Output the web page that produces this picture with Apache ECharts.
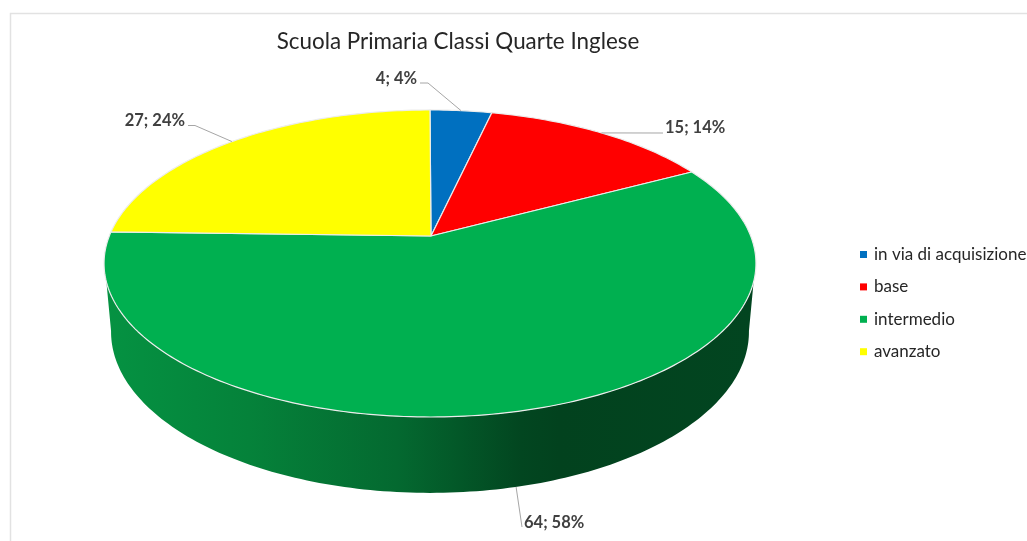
<!DOCTYPE html>
<html>
<head>
<meta charset="utf-8">
<style>html,body{margin:0;padding:0;background:#fff;overflow:hidden}#c{width:1027px;height:541px}</style>
<script src="https://cdn.jsdelivr.net/npm/echarts@6/dist/echarts.min.js"></script>
</head>
<body>
<div id="c"></div>
<script>
const titleText = 'Scuola Primaria Classi Quarte Inglese';
const categories = ['in via di acquisizione', 'base', 'intermedio', 'avanzato'];
const values = [4, 15, 64, 27];
const percents = [4, 14, 58, 24];
const colors = ['#0070C0', '#FF0000', '#00B050', '#FFFF00'];

// label box anchor + leader-line elbow (layout only)
const labelLayout = [
  {x: 417, y: 79, align: 'right', elbow: [[420, 83], [428, 83]]},
  {x: 665, y: 128, align: 'left', elbow: [[663, 133]]},
  {x: 524, y: 523, align: 'left', elbow: [[522, 527]]},
  {x: 185, y: 121, align: 'right', elbow: [[188, 125.5], [195, 125.5]]}
];

// perspective projection of the pie disc (top face and bottom face)
const K = 0.179;
const topDisc = {cx: 430, cy: 236, a: 320.7, b: 148.6};
const botDisc = {cx: 430, cy: 303, a: 313.8, b: 155.9};
const apex = [431, 236];
function project(d, deg) {
  const t = deg * Math.PI / 180, X = Math.sin(t), Y = -Math.cos(t), w = 1 - K * Y;
  return [d.cx + d.a * X / w, d.cy + d.b * Y / w];
}
function arc(d, from, to) {
  const n = Math.max(2, Math.ceil(Math.abs(to - from))), pts = [];
  for (let i = 0; i <= n; i++) pts.push(project(d, from + (to - from) * i / n));
  return pts;
}
const total = values.reduce((s, v) => s + v, 0);

function makeRender(idx) {
  return function (params, api) {
    const v = api.value(0);
    const before = values.slice(0, idx).reduce((s, x) => s + x, 0);
    const start = before / total * 360, end = start + v / total * 360, mid = (start + end) / 2;
    const children = [];
    const hasWall = end > 180 && start < 180;
    if (hasWall) {
      const wall = arc(topDisc, 107, 253).concat(arc(botDisc, 260, 100));
      children.push({
        type: 'polygon', shape: {points: wall},
        style: {
          fill: {type: 'linear', x: 0, y: 0, x2: 1, y2: 0, colorStops: [
            {offset: 0, color: '#059242'}, {offset: 0.22, color: '#05823A'},
            {offset: 0.45, color: '#046930'}, {offset: 0.64, color: '#024620'},
            {offset: 0.7, color: '#02421E'}, {offset: 1, color: '#024520'}
          ]}
        }
      });
    }
    children.push({
      type: 'polygon',
      shape: {points: [apex].concat(arc(topDisc, start, end))},
      style: {fill: api.visual('color'), stroke: '#ECECEC', lineWidth: 1.2, lineJoin: 'round'}
    });
    const lay = labelLayout[idx];
    const anchor = project(mid > 90 && mid < 270 ? botDisc : topDisc, mid);
    children.push({
      type: 'polyline', shape: {points: lay.elbow.concat([anchor])},
      style: {fill: null, stroke: '#A6A6A6', lineWidth: 1}
    });
    children.push({
      type: 'text',
      style: {
        text: v + '; ' + percents[idx] + '%', x: lay.x, y: lay.y,
        align: lay.align, verticalAlign: 'middle',
        font: 'bold 16.5px Lato, sans-serif', fill: '#404040'
      }
    });
    return {type: 'group', children};
  };
}

const chart = echarts.init(document.getElementById('c'), null, {renderer: 'canvas'});
chart.setOption({
  animation: false,
  backgroundColor: '#fff',
  title: {
    text: titleText, left: 453, top: 26, textAlign: 'center',
    textStyle: {fontFamily: 'Lato, sans-serif', fontSize: 22.4, fontWeight: 'normal', color: '#262626'}
  },
  legend: {
    orient: 'vertical', left: 860, top: 246, icon: 'rect',
    itemWidth: 7, itemHeight: 7, itemGap: 15.4, padding: 0,
    data: categories, selectedMode: false,
    textStyle: {fontFamily: 'Lato, sans-serif', fontSize: 17, color: '#262626', padding: [0, 0, 0, 2]}
  },
  graphic: [{
    type: 'rect', silent: true, z: -1,
    shape: {x: 10.5, y: 13.5, width: 1100, height: 600},
    style: {fill: null, stroke: '#E2E2E2', lineWidth: 1.5}
  }],
  series: categories.map((name, i) => ({
    type: 'custom', name, coordinateSystem: 'none',
    itemStyle: {color: colors[i]},
    data: [[values[i]]],
    renderItem: makeRender(i),
    silent: true
  }))
});
</script>
</body>
</html>
